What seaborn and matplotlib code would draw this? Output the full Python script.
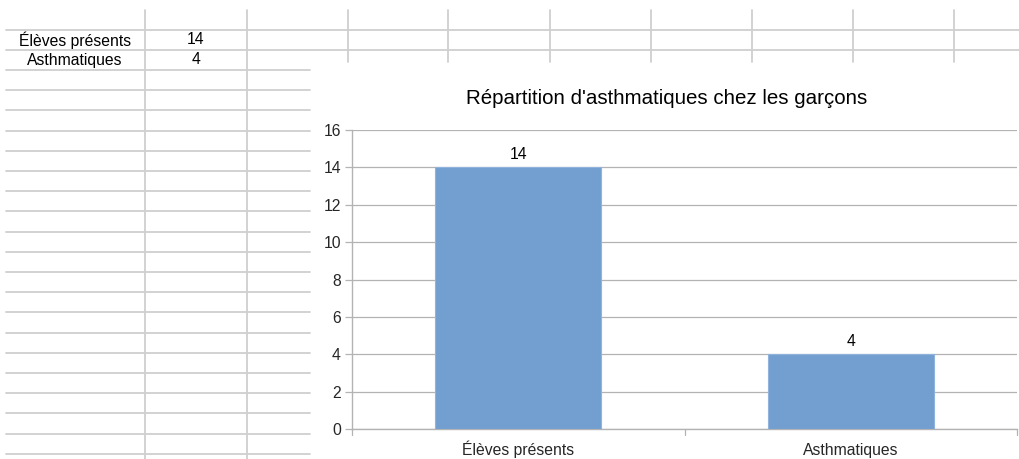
import matplotlib.pyplot as plt
from matplotlib.lines import Line2D
import seaborn as sns
import pandas as pd

# data
categories = ["Élèves présents", "Asthmatiques"]
counts = [14, 4]
title = "Répartition d'asthmatiques chez les garçons"
yticks = [0, 2, 4, 6, 8, 10, 12, 14, 16]

W, H = 1020, 459
BAR_COLOR = "#729fcf"
CELL_LINE = "#cfcfcf"
AXIS_LINE = "#b3b3b3"
FS = 11.3

sns.set_theme(style="white")
plt.rcParams["font.family"] = ["Liberation Sans", "DejaVu Sans"]
plt.rcParams["text.color"] = "#000000"

fig = plt.figure(figsize=(W / 100, H / 100), dpi=100)
fig.patch.set_facecolor("white")


def fx(x):
    return x / W


def fy(y):
    return 1 - y / H


def cell_line(x0, y0, x1, y1):
    fig.add_artist(Line2D([fx(x0), fx(x1)], [fy(y0), fy(y1)],
                          transform=fig.transFigure, color=CELL_LINE, lw=1.3, zorder=0))


# spreadsheet background grid
for y in (30, 50):
    cell_line(6, y, W, y)
for i in range(22):
    y = 70 + i * 20.2
    cell_line(6, y, 310, y)
for x in (145, 247):
    cell_line(x, 10, x, H)
for x in (348, 448, 550, 651, 752, 853, 954):
    cell_line(x, 10, x, 62)

# cell contents
for i, (cat, val) in enumerate(zip(categories, counts)):
    y = 40 + i * 20
    fig.text(fx(75), fy(y), cat, ha="center", va="center", fontsize=FS)
    fig.text(fx(196), fy(y), str(val), ha="center", va="center", fontsize=FS)

# chart
ax = fig.add_axes([fx(352), fy(429), fx(1017) - fx(352), fy(130) - fy(429)])
df = pd.DataFrame({"cat": categories, "n": counts})
sns.barplot(data=df, x="cat", y="n", color=BAR_COLOR, saturation=1, width=0.5,
            edgecolor="#8fb3dc", linewidth=0.8, ax=ax, zorder=3)

ax.set_xlim(-0.5, 1.5)
ax.set_ylim(0, 16)
ax.set_yticks(yticks)
ax.set_xticks([0, 1])
ax.set_xticklabels(categories)
ax.set_xlabel("")
ax.set_ylabel("")

ax.yaxis.grid(True, color=AXIS_LINE, lw=0.9, zorder=0)
ax.set_axisbelow(True)
for side in ("top", "right"):
    ax.spines[side].set_visible(False)
for side in ("left", "bottom"):
    ax.spines[side].set_color(AXIS_LINE)
    ax.spines[side].set_linewidth(1.0)

ax.tick_params(axis="y", left=True, length=5, width=0.9, color=AXIS_LINE,
               labelsize=FS, pad=3)
ax.tick_params(axis="x", bottom=False, length=0, labelsize=FS, pad=18.7)
for lbl in ax.get_xticklabels():
    lbl.set_va("baseline")

# category separator ticks on the x axis
for xv in (-0.5, 0.5, 1.5):
    ax.plot([xv, xv], [0, -0.3], color=AXIS_LINE, lw=0.9, clip_on=False)

ax.bar_label(ax.containers[0], labels=[str(v) for v in counts], padding=4, fontsize=FS)

fig.text(fx(667), fy(98), title, ha="center", va="center", fontsize=14.8)

fig.savefig("out.png", dpi=100, facecolor="white")
